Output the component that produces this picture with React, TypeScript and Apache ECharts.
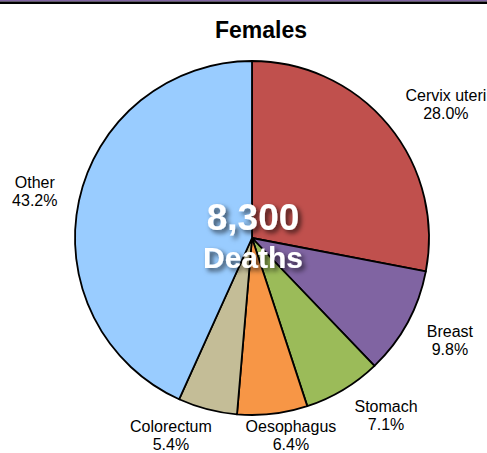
import React, { useEffect, useRef } from "react";
import * as echarts from "echarts";

const categories = ["Cervix uteri", "Breast", "Stomach", "Oesophagus", "Colorectum", "Other"];
const percents = [28.0, 9.8, 7.1, 6.4, 5.4, 43.2];
const colors = ["#C0504D", "#8064A2", "#9BBB59", "#F79646", "#C4BD97", "#99CCFF"];
const titleText = "Females";
const totalText = "8,300";
const totalLabel = "Deaths";

const W = 487;
const H = 453;
const CX = 252;
const CY = 238;
const R = 177;

export default function App() {
  const ref = useRef<HTMLDivElement>(null);
  useEffect(() => {
    document.body.style.margin = "0";
    if (!ref.current) return;
    const chart = echarts.init(ref.current, undefined, { renderer: "svg" });
    const total = percents.reduce((a, b) => a + b, 0);
    const mids: number[] = [];
    let acc = 0;
    percents.forEach((v) => {
      mids.push(((acc + v / 2) / total) * Math.PI * 2);
      acc += v;
    });
    const f = (t: number) => Math.max(-1, Math.min(1, t * 3));
    const gap = 22;
    const font = "'Liberation Sans', Arial, Helvetica, sans-serif";
    const shadow = {
      textShadowColor: "rgba(0,0,0,0.65)",
      textShadowBlur: 5,
      textShadowOffsetX: 3,
      textShadowOffsetY: 3,
    };
    chart.setOption({
      animation: false,
      backgroundColor: "#ffffff",
      title: {
        text: titleText,
        left: 256,
        top: 13,
        textAlign: "center",
        textStyle: { fontFamily: font, fontSize: 23, fontWeight: "bold", color: "#000" },
      },
      graphic: [
        { type: "rect", shape: { x: 0, y: 0, width: W, height: 1.5 }, style: { fill: "#8064A2" } },
        { type: "rect", shape: { x: 0, y: 1.5, width: W, height: 2.5 }, style: { fill: "#000" } },
        {
          type: "text",
          x: 253,
          y: 217,
          z: 100,
          style: {
            text: totalText,
            fill: "#fff",
            font: `bold 37px ${font}`,
            align: "center",
            verticalAlign: "middle",
            ...shadow,
          },
        },
        {
          type: "text",
          x: 253,
          y: 257,
          z: 100,
          style: {
            text: totalLabel,
            fill: "#fff",
            font: `bold 30px ${font}`,
            align: "center",
            verticalAlign: "middle",
            ...shadow,
          },
        },
      ],
      series: [
        {
          type: "pie",
          center: [CX, CY],
          radius: [0, R],
          startAngle: 90,
          clockwise: true,
          avoidLabelOverlap: false,
          data: categories.map((name, i) => ({
            name,
            value: percents[i],
            itemStyle: { color: colors[i] },
          })),
          itemStyle: { borderColor: "#000", borderWidth: 1.8 },
          emphasis: { disabled: true },
          label: {
            show: true,
            position: "outside",
            formatter: (p: any) => `${p.name}\n${Number(p.value).toFixed(1)}%`,
            fontFamily: font,
            fontSize: 16,
            lineHeight: 18,
            color: "#000",
            align: "center",
          },
          labelLine: { show: false },
          labelLayout: (params: any) => {
            const a = mids[params.dataIndex];
            const s = Math.sin(a);
            const dy = -Math.cos(a);
            const w = params.labelRect.width;
            const h = params.labelRect.height;
            const px = CX + (R + gap) * s;
            const py = CY + (R + gap) * dy;
            let x = px + f(s) * (w / 2);
            let y = py + 0.4 * f(dy) * (h / 2);
            y = Math.min(y, H - h / 2);
            return { x, y, align: "center", verticalAlign: "middle" };
          },
        },
      ],
    });
    return () => chart.dispose();
  }, []);
  return <div ref={ref} style={{ width: W, height: H }} />;
}
